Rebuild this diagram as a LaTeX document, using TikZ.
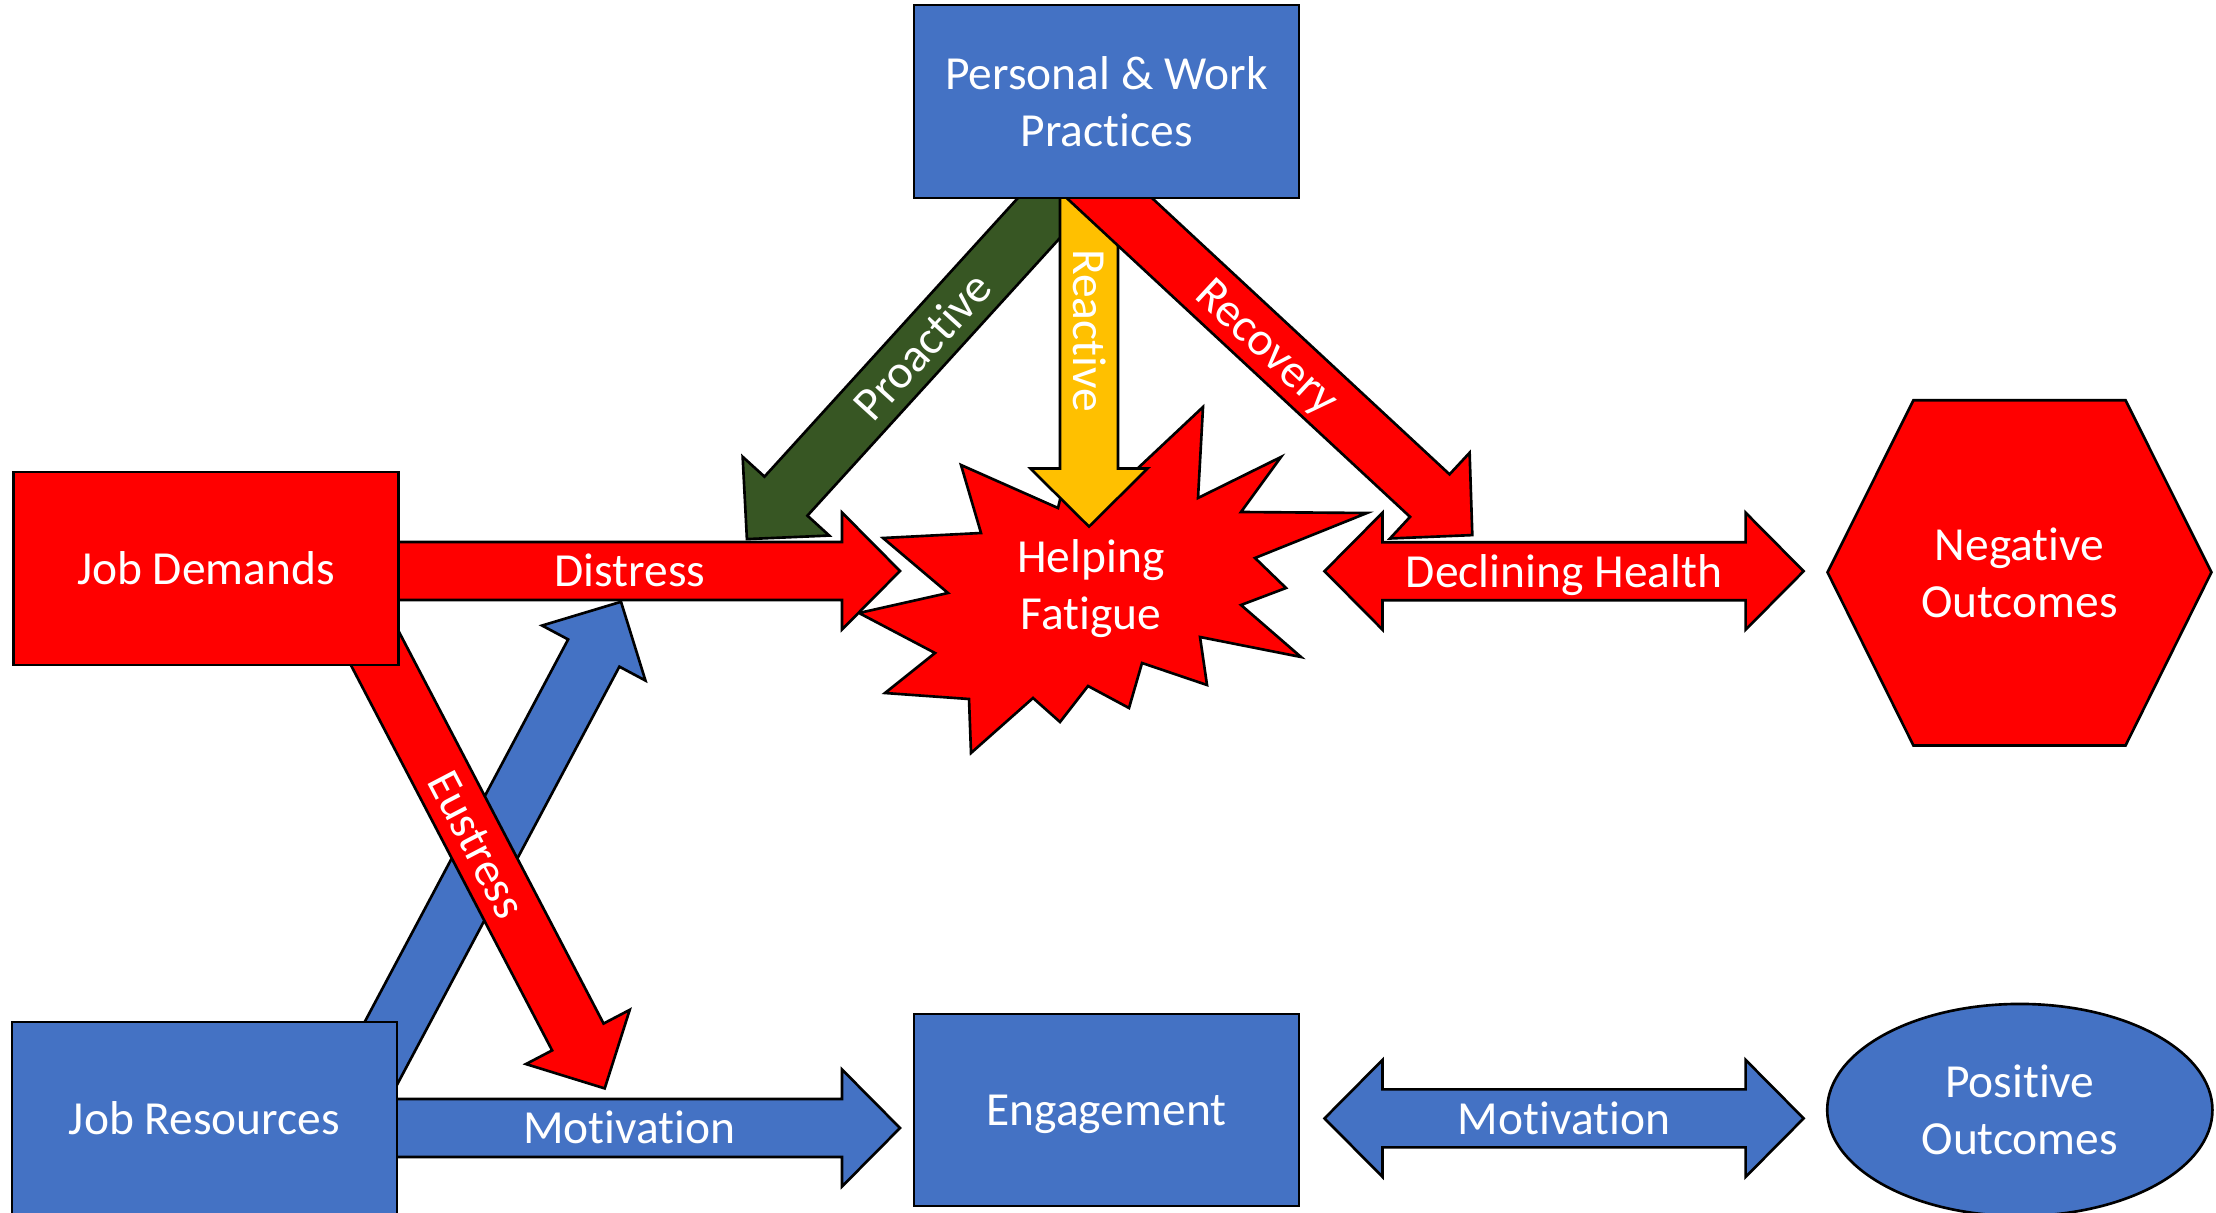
\documentclass[tikz,border=0pt]{standalone}
\usepackage{fontspec}
\setmainfont{Carlito}[Ligatures=NoCommon]
\usetikzlibrary{calc,shapes.geometric}
\definecolor{jblue}{HTML}{4472C4}
\definecolor{jred}{HTML}{FF0000}
\definecolor{jgreen}{HTML}{375623}
\definecolor{jyellow}{HTML}{FFC000}
% half shaft, half head, head length of the block arrows
\newcommand{\arrshaft}{0.29cm}
\newcommand{\arrhead}{0.585cm}
\newcommand{\arrlen}{0.58cm}
% block arrow with one head: style, from, to
\newcommand{\sarrow}[3]{%
  \coordinate (hb) at ($(#3)!\arrlen!(#2)$);
  \draw[#1] ($(#2)!\arrshaft!90:(#3)$) -- ($(hb)!\arrshaft!90:(#3)$)
    -- ($(hb)!\arrhead!90:(#3)$) -- (#3) -- ($(hb)!\arrhead!-90:(#3)$)
    -- ($(hb)!\arrshaft!-90:(#3)$) -- ($(#2)!\arrshaft!-90:(#3)$) -- cycle;
}
% block arrow with two heads
\newcommand{\darrow}[3]{%
  \coordinate (ha) at ($(#2)!\arrlen!(#3)$);
  \coordinate (hb) at ($(#3)!\arrlen!(#2)$);
  \draw[#1] ($(ha)!\arrshaft!90:(#3)$) -- ($(hb)!\arrshaft!90:(#3)$)
    -- ($(hb)!\arrhead!90:(#3)$) -- (#3) -- ($(hb)!\arrhead!-90:(#3)$)
    -- ($(hb)!\arrshaft!-90:(#3)$) -- ($(ha)!\arrshaft!-90:(#3)$)
    -- ($(ha)!\arrhead!-90:(#3)$) -- (#2) -- ($(ha)!\arrhead!90:(#3)$) -- cycle;
}
\pgfdeclarelayer{back}
\pgfsetlayers{back,main}

\begin{document}
\begin{tikzpicture}[x=0.01cm,y=-0.01cm,
  every node/.style={font=\fontsize{13.5pt}{16.2pt}\selectfont,text=white,align=center},
  oneline/.style={text height=11pt,text depth=2pt},
  box/.style={draw,line width=0.75pt,minimum width=3.85cm,minimum height=1.93cm},
  blk/.style={draw,line width=0.75pt,line join=miter,fill=#1},
  lbl/.style={oneline,inner sep=0pt,sloped}]
\useasboundingbox (0,0) rectangle (2216,1213);

%boxes
\node[box,fill=jblue] (practices) at (1106.5,101.5) {Personal \& Work\\Practices};
\node[box,oneline,fill=jred] (demands) at (206,568.5) {Job Demands};
\node[box,oneline,fill=jblue] (resources) at (204.5,1118.5) {Job Resources};
\node[box,oneline,fill=jblue,minimum height=1.92cm] (engage) at (1106.5,1110) {Engagement};

%outcomes
\draw[blk=jred] (1913.4,400.2) -- (2125.5,400.2) -- (2211.4,572.3)
  -- (2125.5,745.5) -- (1913.4,745.5) -- (1827.5,572.3) -- cycle;
\node (negative) at (2019.5,572.8) {Negative\\Outcomes};
\node[ellipse,draw,line width=0.75pt,fill=jblue,minimum width=3.85cm,minimum height=2.12cm]
  (positive) at (2019.8,1110) {Positive\\Outcomes};

%arrow tips and feet
\coordinate (distip) at (900,571);
\coordinate (mottip) at (900,1128);
\coordinate (eusfoot) at (349.6,600);
\coordinate (eustip) at (604.7,1088.4);
\coordinate (resfoot) at (345.4,1120);
\coordinate (restip) at (621,601.8);
\coordinate (profoot) at (1084,168.4);
\coordinate (protip) at (746.9,539.1);
\coordinate (reafoot) at (1089,150);
\coordinate (reatip) at (1089,526.6);
\coordinate (recfoot) at (1080,170.8);
\coordinate (rectip) at (1472.3,535.1);
\coordinate (healthl) at (1324.5,571.2);
\coordinate (healthr) at (1803.6,571.2);
\coordinate (motl) at (1324.5,1118.4);
\coordinate (motr) at (1803.6,1118.4);

\node (fatigue) at (1091,589) {Helping\\Fatigue};

\begin{pgfonlayer}{back}
%helping fatigue burst
\draw[blk=jred] (961,465) -- (1058,508) -- (1068,466) -- (1088,430) -- (1120,485)
  -- (1203,407) -- (1198,498) -- (1281,457) -- (1241,512) -- (1367,513)
  -- (1255,558) -- (1286,588) -- (1241,605) -- (1301,657) -- (1200,637)
  -- (1207,685) -- (1142,663) -- (1129,708) -- (1088,686) -- (1060,722)
  -- (1033,698) -- (971,753) -- (969,699) -- (885,693) -- (935,653)
  -- (859,613) -- (948,593) -- (883,538) -- (981,533) -- cycle;

\sarrow{blk=jblue}{resfoot}{restip}
\sarrow{blk=jred}{eusfoot}{eustip}
\sarrow{blk=jred}{demands.center |- distip}{distip}
\sarrow{blk=jblue}{resources.center |- mottip}{mottip}
\sarrow{blk=jgreen}{profoot}{protip}
\sarrow{blk=jyellow}{reafoot}{reatip}
\sarrow{blk=jred}{recfoot}{rectip}
\darrow{blk=jred}{healthl}{healthr}
\darrow{blk=jblue}{motl}{motr}
\end{pgfonlayer}

%arrow labels
\path (demands.east |- distip) -- (distip) node[lbl,pos=0.46] (distress) {Distress};
\path (resources.east |- mottip) -- (mottip) node[lbl,pos=0.46] (motivation) {Motivation};
\path (eusfoot) -- (eustip) node[lbl,pos=0.5] (eustress) {Eustress};
\path (profoot) -- (protip) node[lbl,pos=0.48] (proactive) {Proactive};
\path (recfoot) -- (rectip) node[lbl,pos=0.48] (recovery) {Recovery};
\node[oneline,inner sep=0pt,rotate=-90] (reactive) at ($(reafoot)!0.48!(reatip)$) {Reactive};
\path (healthl) -- (healthr) node[lbl,pos=0.5] (declining) {Declining Health};
\path (motl) -- (motr) node[lbl,pos=0.5] (motivation2) {Motivation};
\end{tikzpicture}
\end{document}
